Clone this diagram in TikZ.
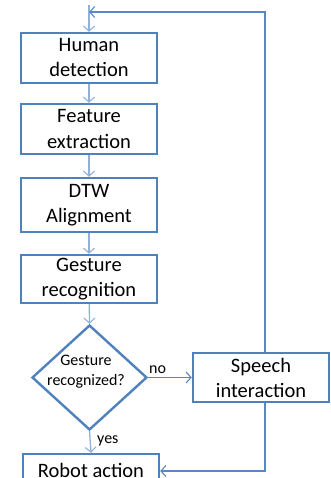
\documentclass[tikz,border=0pt]{standalone}
\usepackage{fontspec}
\setmainfont{Carlito}
\usetikzlibrary{arrows.meta,shapes.geometric,calc}
\definecolor{boxblue}{RGB}{79,129,189}
\definecolor{flowblue}{RGB}{145,177,218}
\definecolor{loopblue}{RGB}{88,135,196}
\tikzset{
  stepbox/.style={draw=boxblue, line width=2.4pt, fill=white, minimum width=136pt,
    minimum height=50pt, inner sep=0pt, align=center,
    font=\fontsize{20.5}{25}\selectfont},
  decision/.style={diamond, draw=boxblue, line width=2.4pt, fill=white, aspect=1.095,
    minimum width=115pt, minimum height=105pt, inner sep=0pt, align=center,
    font=\fontsize{16}{20}\selectfont},
  flow/.style={draw=flowblue, line width=1.3pt, -{Straight Barb[length=5pt,width=11pt,line width=1.1pt]}},
  loop/.style={draw=loopblue, line width=1.1pt, -{Straight Barb[length=5pt,width=11pt,line width=1.1pt]}},
  lbl/.style={font=\fontsize{16}{20}\selectfont, inner sep=0pt}
}
\begin{document}
\begin{tikzpicture}[x=1pt,y=-1pt]
  \useasboundingbox (0,0) rectangle (330,478);
  \clip (0,0) rectangle (330,478);

  % corner points of the return paths
  \coordinate (start) at (89,5);
  \coordinate (topright) at (265,12);
  \coordinate (topleft) at (89,12);
  \coordinate (botright) at (265,471);

  \node[stepbox] (human) at (89,58) {Human\\detection};
  \node[stepbox] (feature) at (89,129) {Feature\\extraction};
  \node[stepbox, minimum height=54pt] (dtw) at (89,205) {DTW\\Alignment};
  \node[stepbox, minimum height=48pt] (gesture) at (89,279) {Gesture\\recognition};
  \node[decision] (dec) at (89.5,377.5) {};
  \node[lbl, align=center] (dectext) at (86,372) {Gesture\\recognized?};
  \node[stepbox, minimum width=136pt, minimum height=49pt] (speech) at (261,377.5) {Speech\\interaction};
  \node[stepbox, minimum height=50pt] (robot) at (91,479) {};
  \node[font=\fontsize{20.5}{25}\selectfont, inner sep=0pt, anchor=base] (robottext) at (91,477) {Robot action};

  \draw[flow] (start) -- (human.north);
  \draw[flow] (human) -- (feature);
  \draw[flow] (feature) -- (dtw);
  \draw[flow] (dtw) -- (gesture);
  \draw[flow] (gesture) -- (dec.north);
  \draw[flow] (dec.south) -- (robot.north);
  \draw[loop] (dec.east) -- (speech.west);
  \draw[loop] (speech.north -| topright) -- (topright) -- (topleft);
  \draw[loop] (speech.south -| botright) -- (botright) -- (botright -| robot.east);

  \node[lbl, anchor=base west] (no) at (149,373) {no};
  \node[lbl, anchor=base west] (yes) at (97,443) {yes};
\end{tikzpicture}
\end{document}
